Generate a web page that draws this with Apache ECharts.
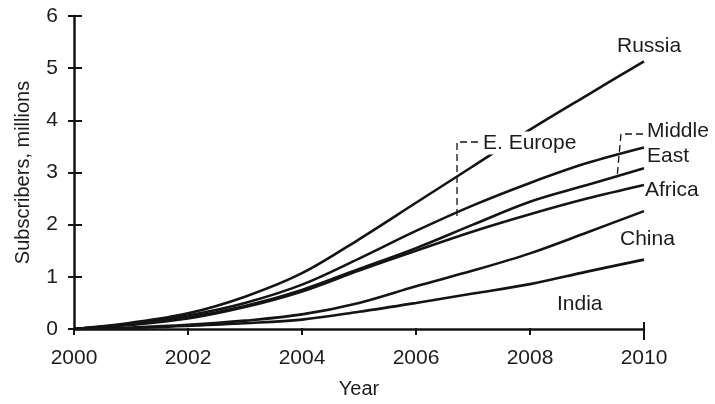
<!DOCTYPE html>
<html>
<head>
<meta charset="utf-8">
<script src="https://cdn.jsdelivr.net/npm/echarts@6/dist/echarts.min.js"></script>
<style>
html,body{margin:0;padding:0;background:#fff;}
#c{width:715px;height:404px;}
</style>
</head>
<body>
<div id="c"></div>
<script>
const years = [2000, 2001, 2002, 2003, 2004, 2005, 2006, 2007, 2008, 2009, 2010];
const xTicks = ['2000', '2002', '2004', '2006', '2008', '2010'];
const yTicks = ['0', '1', '2', '3', '4', '5', '6'];
const russia     = [0, 0.12, 0.30, 0.62, 1.07, 1.72, 2.42, 3.12, 3.82, 4.48, 5.13];
const eEurope    = [0, 0.10, 0.26, 0.50, 0.85, 1.35, 1.88, 2.37, 2.80, 3.18, 3.48];
const middleEast = [0, 0.09, 0.22, 0.44, 0.75, 1.15, 1.55, 2.00, 2.44, 2.76, 3.08];
const africa     = [0, 0.08, 0.20, 0.42, 0.72, 1.12, 1.50, 1.87, 2.20, 2.50, 2.76];
const china      = [0, 0.03, 0.08, 0.16, 0.28, 0.50, 0.82, 1.12, 1.45, 1.85, 2.26];
const india      = [0, 0.02, 0.06, 0.11, 0.18, 0.33, 0.50, 0.68, 0.86, 1.10, 1.33];
const seriesNames = ['Russia', 'E. Europe', 'Middle East', 'Africa', 'China', 'India'];
const seriesValues = [russia, eEurope, middleEast, africa, china, india];

const FONT = 'Liberation Sans';
const INK = '#141414';
const TXT = '#1c1c1c';
const LBL = '21px "Liberation Sans"';

const chart = echarts.init(document.getElementById('c'), null, {renderer: 'canvas'});

function pairs(vals) { return years.map((y, i) => [y, vals[i]]); }

const baseX = {type: 'value', min: 2000, max: 2010, interval: 2};
const baseY = {type: 'value', min: 0, max: 6, interval: 1};

const option = {
  backgroundColor: '#fff',
  animation: false,
  grid: {left: 74, right: 71, top: 16, bottom: 69, containLabel: false},
  xAxis: [
    Object.assign({}, baseX, {
      position: 'bottom',
      name: 'Year', nameLocation: 'middle', nameGap: 50,
      nameTextStyle: {fontFamily: FONT, fontSize: 20, color: TXT},
      axisLine: {show: true, onZero: false, lineStyle: {color: INK, width: 2.5}},
      axisTick: {show: true, inside: false, length: 5, lineStyle: {color: INK, width: 2}},
      axisLabel: {show: true, margin: 19, fontFamily: FONT, fontSize: 21, color: TXT,
        formatter: v => xTicks[xTicks.indexOf(String(v))] || ''},
      splitLine: {show: false}
    }),
    Object.assign({}, baseX, {
      position: 'top', offset: -319,
      axisLine: {show: false, onZero: false},
      axisTick: {show: true, inside: false, length: 7, lineStyle: {color: INK, width: 2}},
      axisLabel: {show: false},
      splitLine: {show: false}
    })
  ],
  yAxis: [
    Object.assign({}, baseY, {
      position: 'left',
      name: 'Subscribers, millions', nameLocation: 'middle', nameGap: 41, nameRotate: 90,
      nameTextStyle: {fontFamily: FONT, fontSize: 20, color: TXT},
      axisLine: {show: true, onZero: false, lineStyle: {color: INK, width: 2.5}},
      axisTick: {show: true, inside: false, length: 6, lineStyle: {color: INK, width: 2}},
      axisLabel: {show: true, margin: 16, fontFamily: FONT, fontSize: 21, color: TXT,
        formatter: v => yTicks[yTicks.indexOf(String(v))] || ''},
      splitLine: {show: false}
    }),
    Object.assign({}, baseY, {
      position: 'right', offset: -570,
      axisLine: {show: false, onZero: false},
      axisTick: {show: true, inside: false, length: 8, lineStyle: {color: INK, width: 2}},
      axisLabel: {show: false},
      splitLine: {show: false}
    })
  ],
  series: seriesValues.map((vals, i) => ({
    name: seriesNames[i],
    type: 'line',
    xAxisIndex: 0, yAxisIndex: 0,
    data: pairs(vals),
    smooth: 0.35,
    symbol: 'none',
    lineStyle: {color: INK, width: 2.6},
    z: 2
  })),
  graphic: [
    {type: 'text', x: 617, y: 46, z: 10, style: {text: 'Russia', font: LBL, fill: TXT, verticalAlign: 'middle'}},
    {type: 'text', x: 481, y: 143, z: 10, style: {text: 'E. Europe', font: LBL, fill: TXT, verticalAlign: 'middle', backgroundColor: '#fff', padding: [1, 2, 1, 2]}},
    {type: 'text', x: 647, y: 131, z: 10, style: {text: 'Middle', font: LBL, fill: TXT, verticalAlign: 'middle'}},
    {type: 'text', x: 647, y: 156, z: 10, style: {text: 'East', font: LBL, fill: TXT, verticalAlign: 'middle'}},
    {type: 'text', x: 645, y: 190, z: 10, style: {text: 'Africa', font: LBL, fill: TXT, verticalAlign: 'middle'}},
    {type: 'text', x: 620, y: 239, z: 10, style: {text: 'China', font: LBL, fill: TXT, verticalAlign: 'middle'}},
    {type: 'text', x: 557, y: 304, z: 10, style: {text: 'India', font: LBL, fill: TXT, verticalAlign: 'middle'}},
    {type: 'polyline', z: 9, shape: {points: [[478, 142], [457, 142], [457, 218]]},
      style: {stroke: INK, lineWidth: 1.3, lineDash: [7, 4], fill: null}},
    {type: 'polyline', z: 9, shape: {points: [[643, 134], [621, 134], [617, 178]]},
      style: {stroke: INK, lineWidth: 1.3, lineDash: [7, 4], fill: null}},
    {type: 'line', z: 9, shape: {x1: 644, y1: 322, x2: 644, y2: 340},
      style: {stroke: INK, lineWidth: 2}}
  ]
};
chart.setOption(option);
</script>
</body>
</html>
